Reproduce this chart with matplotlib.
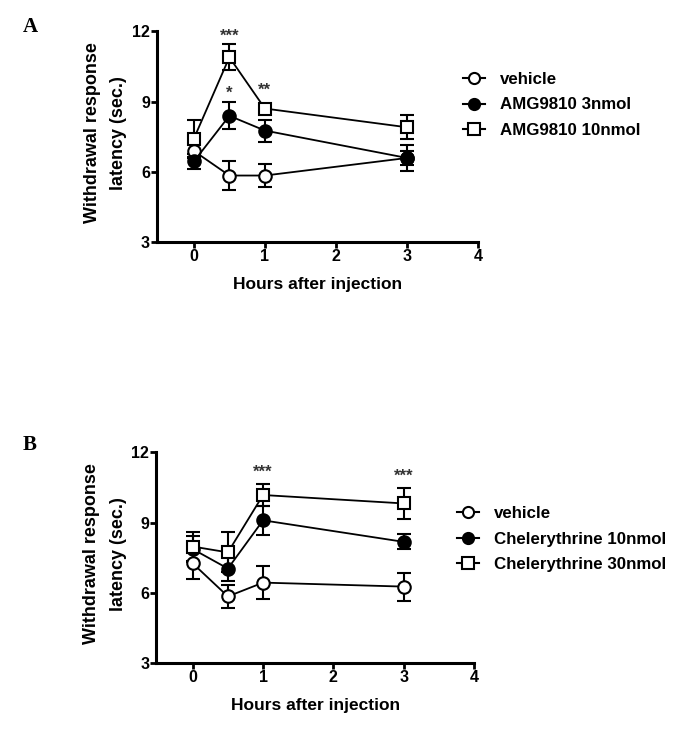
import numpy as np
import matplotlib.pyplot as plt
from matplotlib.lines import Line2D

plt.rcParams['font.family'] = ['Liberation Sans', 'DejaVu Sans']
plt.rcParams['font.weight'] = 'bold'

hours = [0, 0.5, 1, 3]

# panel A
a_names = ['vehicle', 'AMG9810 3nmol', 'AMG9810 10nmol']
a_mean = [[6.9, 5.85, 5.85, 6.6],
          [6.45, 8.4, 7.77, 6.6],
          [7.42, 10.9, 8.71, 7.91]]
a_err = [[0.3, 0.6, 0.5, 0.55],
         [0.3, 0.58, 0.47, 0.3],
         [0.8, 0.55, 0.1, 0.52]]
a_stars = [(0.5, 11.8, '***'), (0.5, 9.35, '*'), (1, 9.5, '**')]

# panel B
b_names = ['vehicle', 'Chelerythrine 10nmol', 'Chelerythrine 30nmol']
b_mean = [[7.26, 5.85, 6.44, 6.27],
          [7.87, 7.04, 9.1, 8.18],
          [7.98, 7.73, 10.18, 9.82]]
b_err = [[0.65, 0.5, 0.7, 0.6],
         [0.55, 0.55, 0.63, 0.32],
         [0.6, 0.85, 0.45, 0.66]]
b_stars = [(1, 11.15, '***'), (3, 11.0, '***')]

styles = [dict(marker='o', mfc='white'),
          dict(marker='o', mfc='black'),
          dict(marker='s', mfc='white')]


def panel(ax, names, means, errs, stars, legend_xy):
    handles = []
    for i in range(3):
        ax.errorbar(hours, means[i], yerr=errs[i], color='black', mec='black',
                    markersize=9, mew=1.5, lw=1.3, elinewidth=1.5, capsize=5,
                    capthick=1.5, **styles[i])
        handles.append(Line2D([], [], color='black', mec='black', markersize=8,
                              mew=1.5, lw=1.5, **styles[i]))
    for x, y, s in stars:
        ax.text(x, y, s, ha='center', va='center', fontsize=12, color='#333333')
    ax.set_xlim(-0.52, 4)
    ax.set_ylim(3, 12)
    ax.set_xticks([0, 1, 2, 3, 4])
    ax.set_yticks([3, 6, 9, 12])
    for s in ['top', 'right']:
        ax.spines[s].set_visible(False)
    for s in ['left', 'bottom']:
        ax.spines[s].set_linewidth(2.2)
    ax.tick_params(width=2, length=4, pad=1, labelsize=11.5)
    ax.set_xlabel('Hours after injection', fontsize=12.5, fontweight='bold',
                  labelpad=9)
    ax.set_ylabel('Withdrawal response\nlatency (sec.)', fontsize=13,
                  fontweight='bold', linespacing=1.75)
    ax.yaxis.set_label_coords(-0.092, 0.52)
    ax.figure.legend(handles, names, loc='upper left', bbox_to_anchor=legend_xy,
                     frameon=False, handlelength=1.3, handletextpad=0.9,
                     labelspacing=0.62, borderaxespad=0,
                     prop={'weight': 'bold', 'size': 12.2})


fig = plt.figure(figsize=(6.85, 7.32), dpi=100)
ax1 = fig.add_axes([0.229, 0.669, 0.469, 0.288])
ax2 = fig.add_axes([0.228, 0.094, 0.464, 0.288])
panel(ax1, a_names, a_mean, a_err, a_stars, (0.666, 0.911))
panel(ax2, b_names, b_mean, b_err, b_stars, (0.657, 0.318))

fig.text(0.033, 0.963, 'A', family='Liberation Serif', fontsize=15,
         fontweight='bold', va='center')
fig.text(0.033, 0.392, 'B', family='Liberation Serif', fontsize=15,
         fontweight='bold', va='center')

fig.savefig('out.png', dpi=100)
